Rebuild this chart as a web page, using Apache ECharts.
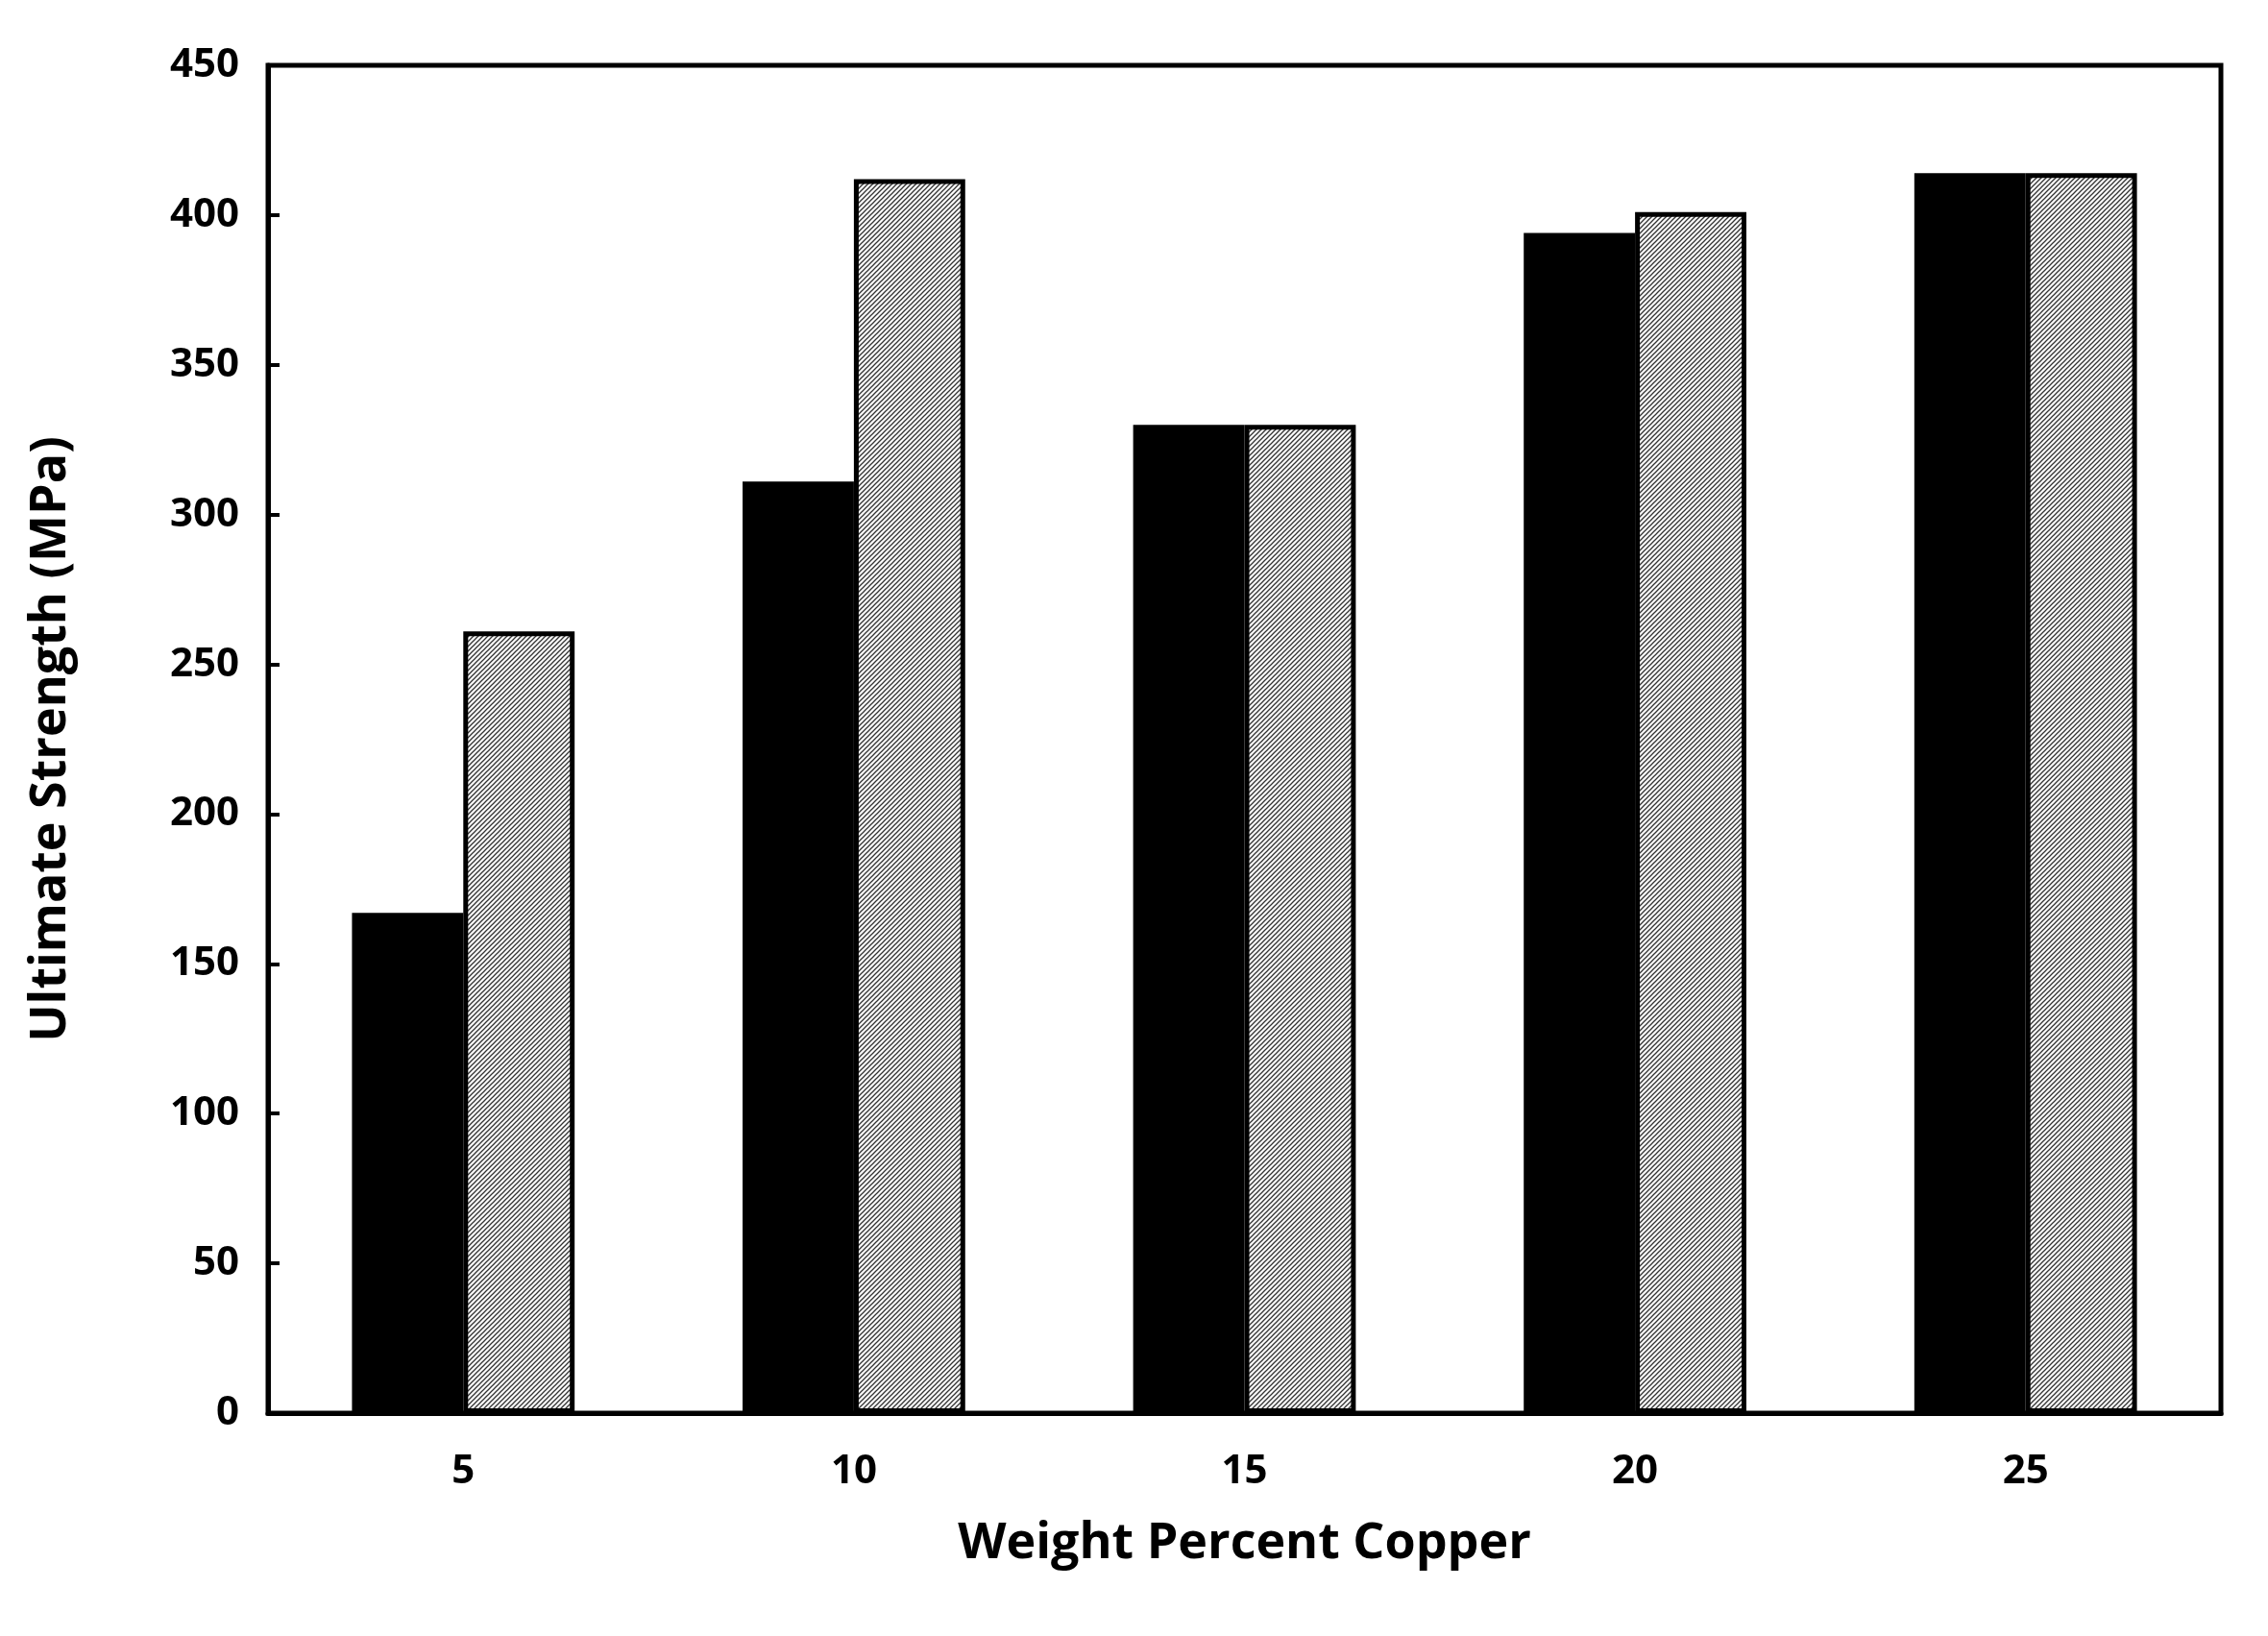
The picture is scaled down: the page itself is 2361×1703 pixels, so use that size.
<!DOCTYPE html>
<html><head><meta charset="utf-8">
<script src="https://cdn.jsdelivr.net/npm/echarts@6/dist/echarts.min.js"></script>
<style>html,body{margin:0;padding:0;background:#fff}#c{width:2361px;height:1703px}</style>
</head><body><div id="c"></div>
<script>
const categories = ['5','10','15','20','25'];
const seriesA = [167, 311, 330, 394, 414];
const seriesB = [261, 412, 330, 401, 414];
const yTicks = {min:0, max:450, interval:50};

const cv = document.createElement('canvas');
cv.width = 5; cv.height = 5;
const g = cv.getContext('2d');
g.fillStyle = '#fff'; g.fillRect(0,0,5,5);
g.strokeStyle = '#333'; g.lineWidth = 1.3;
g.beginPath(); g.moveTo(0,5); g.lineTo(5,0); g.stroke();
g.beginPath(); g.moveTo(-1,1); g.lineTo(1,-1); g.stroke();
g.beginPath(); g.moveTo(4,6); g.lineTo(6,4); g.stroke();

const font = '"Open Sans", "Liberation Sans", sans-serif';
const chart = echarts.init(document.getElementById('c'));
chart.setOption({
  animation:false,
  backgroundColor:'#fff',
  grid:{left:279, right:49, top:68, bottom:232, show:true, borderColor:'#000', borderWidth:5, containLabel:false},
  xAxis:{type:'category', data:categories, name:'Weight Percent Copper', nameLocation:'middle', nameGap:110,
    nameTextStyle:{fontFamily:font, fontWeight:'bold', fontSize:52, color:'#000'},
    axisLine:{lineStyle:{color:'#000', width:5}},
    axisTick:{inside:true, length:12, lineStyle:{color:'#000', width:4}},
    axisLabel:{fontFamily:font, fontWeight:'bold', fontSize:42, color:'#000', margin:40}},
  yAxis:{type:'value', min:yTicks.min, max:yTicks.max, interval:yTicks.interval,
    name:'Ultimate Strength (MPa)', nameLocation:'middle', nameGap:200,
    nameTextStyle:{fontFamily:font, fontWeight:'bold', fontSize:52, color:'#000'},
    splitLine:{show:false},
    axisLine:{show:true, lineStyle:{color:'#000', width:5}},
    axisTick:{show:true, inside:true, length:12, lineStyle:{color:'#000', width:4}},
    axisLabel:{fontFamily:font, fontWeight:'bold', fontSize:42, color:'#000', margin:30}},
  series:[
    {type:'bar', data:seriesA, barGap:'0%', barCategoryGap:'43%', itemStyle:{color:'#000'}},
    {type:'bar', data:seriesB, itemStyle:{color:{image:cv, repeat:'repeat'}, borderColor:'#000', borderWidth:5}}
  ]
});
</script></body></html>
